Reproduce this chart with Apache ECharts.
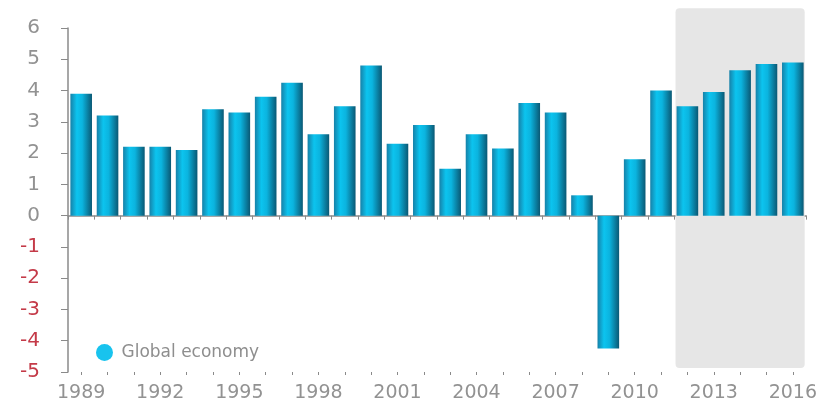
<!DOCTYPE html>
<html>
<head>
<meta charset="utf-8">
<script src="https://cdn.jsdelivr.net/npm/echarts@6/dist/echarts.min.js"></script>
<style>
  html, body { margin: 0; padding: 0; background: #fff; }
  #main { width: 828px; height: 410px; }
</style>
</head>
<body>
<div id="main"></div>
<script>
var years = ['1989','1990','1991','1992','1993','1994','1995','1996','1997','1998',
             '1999','2000','2001','2002','2003','2004','2005','2006','2007','2008',
             '2009','2010','2011','2012','2013','2014','2015','2016'];
var growth = [3.9, 3.2, 2.2, 2.2, 2.1, 3.4, 3.3, 3.8, 4.25, 2.6,
              3.5, 4.8, 2.3, 2.9, 1.5, 2.6, 2.15, 3.6, 3.3, 0.65,
              -4.25, 1.8, 4.0, 3.5, 3.95, 4.65, 4.85, 4.9];
// forecast band: first year, last year, top value, bottom value
var shadeBand = [['2012', '2016', 6.63, -4.87]];

var chart = echarts.init(document.getElementById('main'));
var labelFont = 'DejaVu Sans';

var barGradient = new echarts.graphic.LinearGradient(0, 0, 1, 0, [
    { offset: 0, color: '#1681a8' },
    { offset: 0.3, color: '#0cc4ef' },
    { offset: 0.55, color: '#0bb4df' },
    { offset: 1, color: '#0a5874' }
]);

var option = {
    animation: false,
    grid: { left: 68, right: 22, top: 28, bottom: 38 },
    legend: {
        left: 91,
        top: 339,
        icon: 'circle',
        itemWidth: 18,
        itemHeight: 17,
        data: [{ name: 'Global economy', itemStyle: { color: '#18c3ee' } }],
        textStyle: { color: '#8e8e8e', fontSize: 17, fontFamily: labelFont, padding: [0, 0, 0, 3] }
    },
    xAxis: [
        {
            type: 'category',
            data: years,
            position: 'bottom',
            axisLine: { show: false, onZero: false },
            axisTick: { show: false },
            axisLabel: {
                interval: 2,
                color: '#929292',
                fontSize: 19,
                fontFamily: labelFont,
                margin: 12
            }
        },
        {
            type: 'category',
            data: years,
            position: 'bottom',
            axisLine: { onZero: true, lineStyle: { color: '#8a8a8a', width: 1.5 } },
            axisTick: { show: true, interval: 0, length: 4, lineStyle: { color: '#8a8a8a' } },
            axisLabel: { show: false }
        },
        {
            type: 'category',
            data: years,
            position: 'bottom',
            axisLine: { show: false, onZero: true },
            axisTick: { show: true, interval: 0, alignWithLabel: true, length: 3, lineStyle: { color: '#8a8a8a' } },
            axisLabel: { show: false }
        }
    ],
    yAxis: {
        type: 'value',
        min: -5,
        max: 6,
        interval: 1,
        splitLine: { show: false },
        axisLine: { show: true, lineStyle: { color: '#8a8a8a', width: 1.5 } },
        axisTick: { show: true, length: 7, lineStyle: { color: '#8a8a8a' } },
        axisLabel: {
            fontSize: 20,
            fontFamily: labelFont,
            margin: 28,
            color: function (v) {
                return v < 0 ? '#c43a48' : '#929292';
            }
        }
    },
    series: [
        {
            type: 'custom',
            z: 1,
            silent: true,
            clip: false,
            data: shadeBand.map(function (d) {
                return [years.indexOf(d[0]), years.indexOf(d[1]), d[2], d[3]];
            }),
            renderItem: function (params, api) {
                var p1 = api.coord([api.value(0), api.value(2)]);
                var p2 = api.coord([api.value(1), api.value(3)]);
                var half = api.size([1, 0])[0] * 0.45;
                return {
                    type: 'rect',
                    shape: { x: p1[0] - half, y: p1[1], width: p2[0] - p1[0] + 2 * half, height: p2[1] - p1[1], r: 4 },
                    style: { fill: '#e6e6e6' }
                };
            }
        },
        {
            name: 'Global economy',
            type: 'bar',
            z: 3,
            data: growth,
            barCategoryGap: '18%',
            itemStyle: { color: barGradient }
        }
    ]
};

chart.setOption(option);
</script>
</body>
</html>
